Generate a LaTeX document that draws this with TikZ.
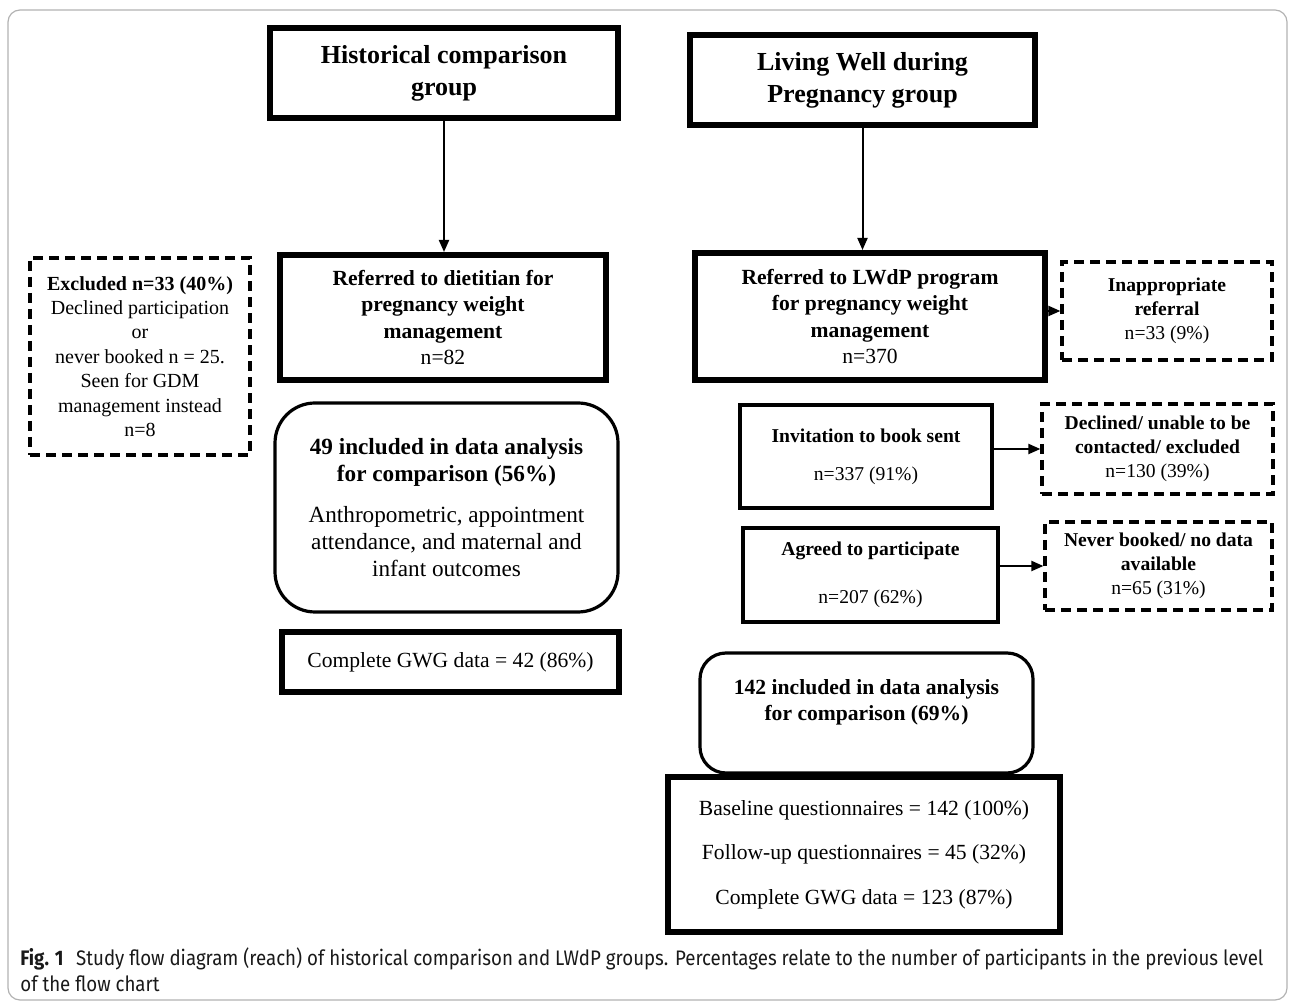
\documentclass[tikz,border=0pt]{standalone}
\usepackage{fontspec}
\setmainfont{Liberation Serif}
\newfontfamily\capfont[FakeStretch=0.89]{Fira Sans}
\usetikzlibrary{arrows.meta,positioning}

\newcommand{\tsz}{\fontsize{13}{16}\selectfont}
\newcommand{\msz}{\fontsize{10.8}{13.2}\selectfont}
\newcommand{\lsz}{\fontsize{11.6}{13.6}\selectfont}
\newcommand{\ssz}{\fontsize{9.8}{12}\selectfont}
\newcommand{\esz}{\fontsize{10}{12.2}\selectfont}
\newcommand{\capsz}{\capfont\fontsize{10.5}{13}\selectfont}

\begin{document}
\begin{tikzpicture} [x=0.5pt, y=-0.5pt, >={Triangle[length=6pt,width=5pt]}, titlebox/.style={rectangle, draw, line width=3pt, align=center}, block/.style={rectangle, draw, line width=1.6pt, align=center}, thickblock/.style={rectangle, draw, line width=3pt, align=center}, dashbox/.style={rectangle, draw, line width=1.6pt, dash pattern=on 5pt off 3pt, align=center}, roundbox/.style={rectangle, draw, line width=1.6pt, align=center}, link/.style={->, line width=1pt}]
	\useasboundingbox (0,0) rectangle (1295,1004);
	\draw [gray!60, line width=0.6pt, rounded corners=6pt] (8,10) rectangle (1287,1000);

	% historical group
	\node [titlebox, minimum width=174pt, minimum height=45pt, font=\tsz\bfseries] (histtitle) at (444,73) {Historical comparison\\ group};
	\node [thickblock, minimum width=163pt, minimum height=62.5pt, font=\msz] (refdiet) at (443,317.5) {\textbf{Referred to dietitian for}\\ \textbf{pregnancy weight}\\ \textbf{management}\\ n=82};
	\node [dashbox, minimum width=110pt, minimum height=98.5pt, font=\esz] (excl) at (140,356.5) {\textbf{Excluded n=33 (40\%)}\\ Declined participation\\ or\\ never booked n = 25.\\ Seen for GDM\\ management instead\\ n=8};
	\node [roundbox, rounded corners=20pt, minimum width=171.5pt, minimum height=104.5pt, font=\lsz] (incl49) at (446.5,507.5) {\textbf{49 included in data analysis}\\ \textbf{for comparison (56\%)}\\[7pt] Anthropometric, appointment\\ attendance, and maternal and\\ infant outcomes};
	\node [thickblock, minimum width=168.5pt, minimum height=30pt, font=\msz] (gwg49) at (450.5,662) {Complete GWG data = 42 (86\%)};

	% LWdP group
	\node [titlebox, minimum width=172.5pt, minimum height=45pt, font=\tsz\bfseries] (lwdptitle) at (862.5,80) {Living Well during\\ Pregnancy group};
	\node [thickblock, minimum width=175pt, minimum height=63.5pt, font=\msz] (reflwdp) at (870,316.5) {\textbf{Referred to LWdP program}\\ \textbf{for pregnancy weight}\\ \textbf{management}\\ n=370};
	\node [dashbox, minimum width=105pt, minimum height=49pt, font=\ssz] (inapp) at (1167,311) {\textbf{Inappropriate}\\ \textbf{referral}\\ n=33 (9\%)};
	\node [block, minimum width=126pt, minimum height=51.5pt, font=\ssz] (invite) at (866,456.5) {\textbf{Invitation to book sent}\\[7pt] n=337 (91\%)};
	\node [dashbox, minimum width=115.5pt, minimum height=45pt, font=\ssz] (declined) at (1157.5,449) {\textbf{Declined/ unable to be}\\ \textbf{contacted/ excluded}\\ n=130 (39\%)};
	\node [block, minimum width=127.5pt, minimum height=47pt, font=\ssz] (agreed) at (870.5,575) {\textbf{Agreed to participate}\\[12pt] n=207 (62\%)};
	\node [dashbox, minimum width=113.5pt, minimum height=44pt, font=\ssz] (never) at (1158.5,566) {\textbf{Never booked/ no data}\\ \textbf{available}\\ n=65 (31\%)};
	\node [roundbox, rounded corners=13pt, minimum width=166.5pt, minimum height=60pt, font=\msz] (incl142) at (866.5,713) {\textbf{142 included in data analysis}\\ \textbf{for comparison (69\%)}\\ \mbox{}};
	\node [thickblock, minimum width=196pt, minimum height=77.5pt, font=\msz] (final142) at (864,854.5) {Baseline questionnaires = 142 (100\%)\\[9pt] Follow-up questionnaires = 45 (32\%)\\[9pt] Complete GWG data = 123 (87\%)};

	% draw edges
	\draw [link] (histtitle.south) -- (histtitle.south |- refdiet.north);
	\draw [link] (lwdptitle.south) -- (lwdptitle.south |- reflwdp.north);
	\draw [link] (reflwdp.east |- inapp.west) -- (inapp.west);
	\draw [link] (invite.east |- declined.west) -- (declined.west);
	\draw [link] (agreed.east |- never.west) -- (never.west);

	% caption
	\node [anchor=north west, align=left, inner sep=0pt, font=\capsz, text=black!90] (caption) at (20,947) {\textbf{Fig. 1}\hspace{0.6em}Study flow diagram (reach) of historical comparison and LWdP groups. Percentages relate to the number of participants in the previous level\\ of the flow chart};
\end{tikzpicture}
\end{document}
